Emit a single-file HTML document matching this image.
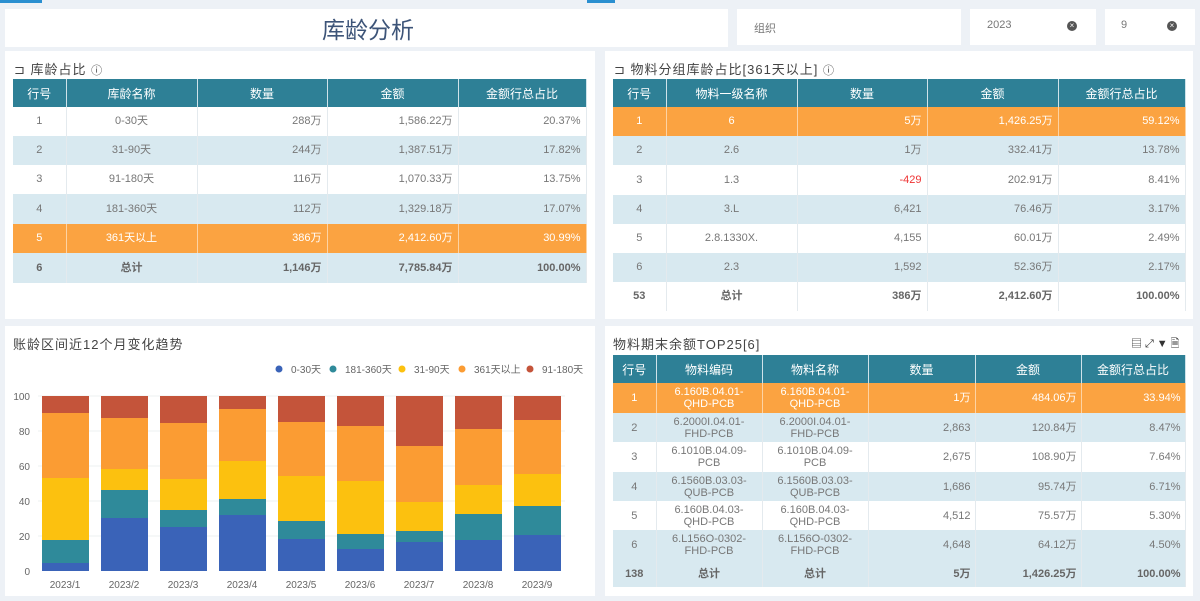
<!DOCTYPE html>
<html><head><meta charset="utf-8">
<style>
*{margin:0;padding:0;box-sizing:border-box}
body{width:1200px;height:601px;background:#edf1f6;font-family:"Liberation Sans","Noto Sans CJK SC",sans-serif;position:relative;overflow:hidden;color:#666}
.box{position:absolute;background:#fff}
.ttl{position:absolute;font-size:13px;color:#444;letter-spacing:1px}
table{position:absolute;border-collapse:collapse;table-layout:fixed;font-size:11px}
th{background:#2e8096;color:#fff;font-weight:normal;font-size:12px;border-right:1px solid #cfe3ea;text-align:center}
td{border-right:1px solid #e4eaee;color:#777;padding:0 5px;line-height:13px}
.sm td{line-height:12px;padding:0 4px}
td.c{text-align:center}td.r{text-align:right}
tr.b td{background:#d8e9f0}
tr.o td{background:#fba341;color:#fff;border-right:1px solid #fdd3a3}
tr.t td{font-weight:bold;color:#666}
.x{position:absolute;width:10px;height:10px;border-radius:50%;background:#555;color:#fff;font-size:8px;line-height:10px;text-align:center}
</style></head><body>
<div style="position:absolute;left:0;top:0;width:42px;height:3px;background:#2a8fd0"></div>
<div style="position:absolute;left:587px;top:0;width:28px;height:3px;background:#2a8fd0"></div>
<div class="box" style="left:5px;top:9px;width:723px;height:38px"></div>
<div style="position:absolute;left:322px;top:11px;font-size:23px;color:#3d5478">库龄分析</div>
<div class="box" style="left:737px;top:9px;width:224px;height:36px"></div>
<div style="position:absolute;left:754px;top:20px;font-size:11px;color:#777">组织</div>
<div class="box" style="left:970px;top:9px;width:126px;height:36px"></div>
<div style="position:absolute;left:987px;top:19px;font-size:11px;color:#777">2023</div>
<div class="x" style="left:1067px;top:21px">×</div>
<div class="box" style="left:1105px;top:9px;width:90px;height:36px"></div>
<div style="position:absolute;left:1121px;top:19px;font-size:11px;color:#777">9</div>
<div class="x" style="left:1167px;top:21px">×</div>

<div class="box" style="left:5px;top:51px;width:590px;height:268px"></div>
<div class="ttl" style="left:14px;top:59px">⊐ 库龄占比 <span style="font-size:11px">ⓘ</span></div>
<table style="left:13px;top:79px;width:573px">
<colgroup><col style="width:53px"><col style="width:131px"><col style="width:130px"><col style="width:131px"><col style="width:128px"></colgroup>
<tr style="height:28px"><th>行号</th><th>库龄名称</th><th>数量</th><th>金额</th><th>金额行总占比</th></tr>
<tr style="height:29px"><td class="c">1</td><td class="c">0-30天</td><td class="r">288万</td><td class="r">1,586.22万</td><td class="r">20.37%</td></tr>
<tr class="b" style="height:29px"><td class="c">2</td><td class="c">31-90天</td><td class="r">244万</td><td class="r">1,387.51万</td><td class="r">17.82%</td></tr>
<tr style="height:29px"><td class="c">3</td><td class="c">91-180天</td><td class="r">116万</td><td class="r">1,070.33万</td><td class="r">13.75%</td></tr>
<tr class="b" style="height:30px"><td class="c">4</td><td class="c">181-360天</td><td class="r">112万</td><td class="r">1,329.18万</td><td class="r">17.07%</td></tr>
<tr class="o" style="height:29px"><td class="c">5</td><td class="c">361天以上</td><td class="r">386万</td><td class="r">2,412.60万</td><td class="r">30.99%</td></tr>
<tr class="b t" style="height:30px"><td class="c">6</td><td class="c">总计</td><td class="r">1,146万</td><td class="r">7,785.84万</td><td class="r">100.00%</td></tr>
</table>

<div class="box" style="left:605px;top:51px;width:588px;height:268px"></div>
<div class="ttl" style="left:614px;top:59px">⊐ 物料分组库龄占比[361天以上] <span style="font-size:11px">ⓘ</span></div>
<table style="left:613px;top:79px;width:572px">
<colgroup><col style="width:53px"><col style="width:131px"><col style="width:130px"><col style="width:131px"><col style="width:127px"></colgroup>
<tr style="height:28px"><th>行号</th><th>物料一级名称</th><th>数量</th><th>金额</th><th>金额行总占比</th></tr>
<tr class="o" style="height:29px"><td class="c">1</td><td class="c">6</td><td class="r">5万</td><td class="r">1,426.25万</td><td class="r">59.12%</td></tr>
<tr class="b" style="height:29px"><td class="c">2</td><td class="c">2.6</td><td class="r">1万</td><td class="r">332.41万</td><td class="r">13.78%</td></tr>
<tr style="height:30px"><td class="c">3</td><td class="c">1.3</td><td class="r" style="color:#e33">-429</td><td class="r">202.91万</td><td class="r">8.41%</td></tr>
<tr class="b" style="height:29px"><td class="c">4</td><td class="c">3.L</td><td class="r">6,421</td><td class="r">76.46万</td><td class="r">3.17%</td></tr>
<tr style="height:29px"><td class="c">5</td><td class="c">2.8.1330X.</td><td class="r">4,155</td><td class="r">60.01万</td><td class="r">2.49%</td></tr>
<tr class="b" style="height:29px"><td class="c">6</td><td class="c">2.3</td><td class="r">1,592</td><td class="r">52.36万</td><td class="r">2.17%</td></tr>
<tr class="t" style="height:29px"><td class="c">53</td><td class="c">总计</td><td class="r">386万</td><td class="r">2,412.60万</td><td class="r">100.00%</td></tr>
</table>

<div class="box" style="left:5px;top:326px;width:590px;height:270px"></div>
<div class="ttl" style="left:13px;top:334px">账龄区间近12个月变化趋势</div>
<svg style="position:absolute;left:0;top:0" width="600" height="601" font-family="Liberation Sans, Noto Sans CJK SC, sans-serif" font-size="10" fill="#666">
<g font-size="10">
<circle cx="279" cy="369" r="3.5" fill="#3a63b8"/><text x="291" y="373">0-30天</text>
<circle cx="333" cy="369" r="3.5" fill="#2f8a9a"/><text x="345" y="373">181-360天</text>
<circle cx="402" cy="369" r="3.5" fill="#fcc10f"/><text x="414" y="373">31-90天</text>
<circle cx="462" cy="369" r="3.5" fill="#fb9c33"/><text x="474" y="373">361天以上</text>
<circle cx="530" cy="369" r="3.5" fill="#c4543a"/><text x="542" y="373">91-180天</text>
</g>
<g stroke="#eef0f2"><line x1="38" x2="565" y1="396" y2="396"/><line x1="38" x2="565" y1="431" y2="431"/><line x1="38" x2="565" y1="466" y2="466"/><line x1="38" x2="565" y1="501" y2="501"/><line x1="38" x2="565" y1="536" y2="536"/></g>
<g text-anchor="end"><text x="30" y="400">100</text><text x="30" y="435">80</text><text x="30" y="470">60</text><text x="30" y="505">40</text><text x="30" y="540">20</text><text x="30" y="575">0</text></g>
<g text-anchor="middle">
<text x="65" y="588">2023/1</text><text x="124" y="588">2023/2</text><text x="183" y="588">2023/3</text><text x="242" y="588">2023/4</text><text x="301" y="588">2023/5</text><text x="360" y="588">2023/6</text><text x="419" y="588">2023/7</text><text x="478" y="588">2023/8</text><text x="537" y="588">2023/9</text>
</g>
<g>
<rect x="42" y="563" width="47" height="8" fill="#3a63b8"/><rect x="42" y="540" width="47" height="23" fill="#2f8a9a"/><rect x="42" y="478" width="47" height="62" fill="#fcc10f"/><rect x="42" y="413" width="47" height="65" fill="#fb9c33"/><rect x="42" y="396" width="47" height="17" fill="#c4543a"/>
<rect x="101" y="518" width="47" height="53" fill="#3a63b8"/><rect x="101" y="490" width="47" height="28" fill="#2f8a9a"/><rect x="101" y="469" width="47" height="21" fill="#fcc10f"/><rect x="101" y="418" width="47" height="51" fill="#fb9c33"/><rect x="101" y="396" width="47" height="22" fill="#c4543a"/>
<rect x="160" y="527" width="47" height="44" fill="#3a63b8"/><rect x="160" y="510" width="47" height="17" fill="#2f8a9a"/><rect x="160" y="479" width="47" height="31" fill="#fcc10f"/><rect x="160" y="423" width="47" height="56" fill="#fb9c33"/><rect x="160" y="396" width="47" height="27" fill="#c4543a"/>
<rect x="219" y="515" width="47" height="56" fill="#3a63b8"/><rect x="219" y="499" width="47" height="16" fill="#2f8a9a"/><rect x="219" y="461" width="47" height="38" fill="#fcc10f"/><rect x="219" y="409" width="47" height="52" fill="#fb9c33"/><rect x="219" y="396" width="47" height="13" fill="#c4543a"/>
<rect x="278" y="539" width="47" height="32" fill="#3a63b8"/><rect x="278" y="521" width="47" height="18" fill="#2f8a9a"/><rect x="278" y="476" width="47" height="45" fill="#fcc10f"/><rect x="278" y="422" width="47" height="54" fill="#fb9c33"/><rect x="278" y="396" width="47" height="26" fill="#c4543a"/>
<rect x="337" y="549" width="47" height="22" fill="#3a63b8"/><rect x="337" y="534" width="47" height="15" fill="#2f8a9a"/><rect x="337" y="481" width="47" height="53" fill="#fcc10f"/><rect x="337" y="426" width="47" height="55" fill="#fb9c33"/><rect x="337" y="396" width="47" height="30" fill="#c4543a"/>
<rect x="396" y="542" width="47" height="29" fill="#3a63b8"/><rect x="396" y="531" width="47" height="11" fill="#2f8a9a"/><rect x="396" y="502" width="47" height="29" fill="#fcc10f"/><rect x="396" y="446" width="47" height="56" fill="#fb9c33"/><rect x="396" y="396" width="47" height="50" fill="#c4543a"/>
<rect x="455" y="540" width="47" height="31" fill="#3a63b8"/><rect x="455" y="514" width="47" height="26" fill="#2f8a9a"/><rect x="455" y="485" width="47" height="29" fill="#fcc10f"/><rect x="455" y="429" width="47" height="56" fill="#fb9c33"/><rect x="455" y="396" width="47" height="33" fill="#c4543a"/>
<rect x="514" y="535" width="47" height="36" fill="#3a63b8"/><rect x="514" y="506" width="47" height="29" fill="#2f8a9a"/><rect x="514" y="474" width="47" height="32" fill="#fcc10f"/><rect x="514" y="420" width="47" height="54" fill="#fb9c33"/><rect x="514" y="396" width="47" height="24" fill="#c4543a"/>
</g>
</svg>

<div class="box" style="left:605px;top:326px;width:588px;height:270px"></div>
<div class="ttl" style="left:613px;top:334px">物料期末余额TOP25[6]</div>
<div style="position:absolute;left:1131px;top:335px;font-size:11px;color:#333;letter-spacing:3px">▤⤢▼🗎</div>
<table class="sm" style="left:613px;top:355px;width:572px">
<colgroup><col style="width:43px"><col style="width:106px"><col style="width:106px"><col style="width:107px"><col style="width:106px"><col style="width:104px"></colgroup>
<tr style="height:28px"><th>行号</th><th>物料编码</th><th>物料名称</th><th>数量</th><th>金额</th><th>金额行总占比</th></tr>
<tr class="o" style="height:30px"><td class="c">1</td><td class="c">6.160B.04.01-QHD-PCB</td><td class="c">6.160B.04.01-QHD-PCB</td><td class="r">1万</td><td class="r">484.06万</td><td class="r">33.94%</td></tr>
<tr class="b" style="height:29px"><td class="c">2</td><td class="c">6.2000I.04.01-FHD-PCB</td><td class="c">6.2000I.04.01-FHD-PCB</td><td class="r">2,863</td><td class="r">120.84万</td><td class="r">8.47%</td></tr>
<tr style="height:30px"><td class="c">3</td><td class="c">6.1010B.04.09-PCB</td><td class="c">6.1010B.04.09-PCB</td><td class="r">2,675</td><td class="r">108.90万</td><td class="r">7.64%</td></tr>
<tr class="b" style="height:29px"><td class="c">4</td><td class="c">6.1560B.03.03-QUB-PCB</td><td class="c">6.1560B.03.03-QUB-PCB</td><td class="r">1,686</td><td class="r">95.74万</td><td class="r">6.71%</td></tr>
<tr style="height:29px"><td class="c">5</td><td class="c">6.160B.04.03-QHD-PCB</td><td class="c">6.160B.04.03-QHD-PCB</td><td class="r">4,512</td><td class="r">75.57万</td><td class="r">5.30%</td></tr>
<tr class="b" style="height:30px"><td class="c">6</td><td class="c">6.L156O-0302-FHD-PCB</td><td class="c">6.L156O-0302-FHD-PCB</td><td class="r">4,648</td><td class="r">64.12万</td><td class="r">4.50%</td></tr>
<tr class="b t" style="height:27px"><td class="c">138</td><td class="c">总计</td><td class="c">总计</td><td class="r">5万</td><td class="r">1,426.25万</td><td class="r">100.00%</td></tr>
</table>
</body></html>
